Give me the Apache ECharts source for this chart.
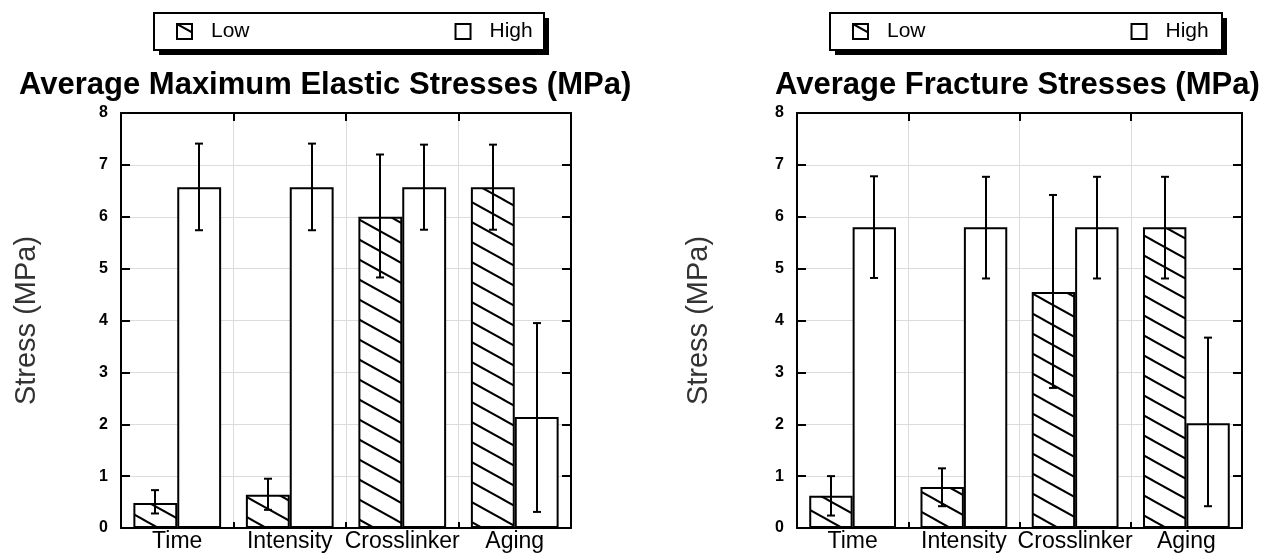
<!DOCTYPE html>
<html>
<head>
<meta charset="utf-8">
<script src="https://cdn.jsdelivr.net/npm/echarts@6/dist/echarts.min.js"></script>
<style>
html,body{margin:0;padding:0;background:#fff;}
#chart{width:1267px;height:554px;}
</style>
</head>
<body>
<div id="chart"></div>
<script>
// ---- data ----
const categories = ['Time', 'Intensity', 'Crosslinker', 'Aging'];
const seriesNames = ['Low', 'High'];

// Average Maximum Elastic Stresses (MPa)
const elasticLow = [0.48, 0.64, 6.0, 6.57];
const elasticHigh = [6.57, 6.57, 6.57, 2.14];
const elasticLowErrMin = [0.28, 0.35, 4.83, 5.75];
const elasticLowErrMax = [0.73, 0.95, 7.2, 7.39];
const elasticHighErrMin = [5.74, 5.74, 5.75, 0.31];
const elasticHighErrMax = [7.41, 7.41, 7.39, 3.95];

// Average Fracture Stresses (MPa)
const fractureLow = [0.62, 0.79, 4.55, 5.8];
const fractureHigh = [5.8, 5.8, 5.8, 2.02];
const fractureLowErrMin = [0.24, 0.42, 2.7, 4.81];
const fractureLowErrMax = [1.0, 1.15, 6.42, 6.77];
const fractureHighErrMin = [4.82, 4.81, 4.81, 0.42];
const fractureHighErrMax = [6.78, 6.77, 6.77, 3.67];

const yMin = 0, yMax = 8, yStep = 1;
const titles = ['Average Maximum Elastic Stresses (MPa)', 'Average Fracture Stresses (MPa)'];
const yAxisName = 'Stress (MPa)';

// ---- hatch pattern ----
function makeHatch() {
  const c = document.createElement('canvas');
  const w = 36, h = 20;
  c.width = w; c.height = h;
  const ctx = c.getContext('2d');
  ctx.fillStyle = '#fff';
  ctx.fillRect(0, 0, w, h);
  ctx.strokeStyle = '#000';
  ctx.lineWidth = 2;
  [-1, 0, 1].forEach(k => {
    ctx.beginPath();
    ctx.moveTo(-w, -h + k * h);
    ctx.lineTo(2 * w, 2 * h + k * h);
    ctx.stroke();
  });
  return c;
}
const hatch = { image: makeHatch(), repeat: 'repeat' };

const FONT = 'Liberation Sans';
const BAR_FRAC = 0.39;

function errSeries(name, xIdx, yIdx, mins, maxs, sign) {
  return {
    type: 'custom',
    name: name,
    xAxisIndex: xIdx,
    yAxisIndex: yIdx,
    z: 5,
    silent: true,
    data: categories.map((c, i) => [i, mins[i], maxs[i]]),
    renderItem: function (params, api) {
      const i = api.value(0);
      const band = api.size([1, 0])[0];
      const off = sign * band * BAR_FRAC / 2;
      const p1 = api.coord([i, api.value(1)]);
      const p2 = api.coord([i, api.value(2)]);
      const x = Math.round(p1[0] + off);
      const cap = 4;
      const st = { stroke: '#000', lineWidth: 2 };
      return {
        type: 'group',
        children: [
          { type: 'line', shape: { x1: x, y1: p1[1], x2: x, y2: p2[1] }, style: st },
          { type: 'line', shape: { x1: x - cap, y1: p1[1], x2: x + cap, y2: p1[1] }, style: st },
          { type: 'line', shape: { x1: x - cap, y1: p2[1], x2: x + cap, y2: p2[1] }, style: st }
        ]
      };
    }
  };
}

function barSeries(name, xIdx, yIdx, data, color) {
  return {
    type: 'bar',
    name: name,
    xAxisIndex: xIdx,
    yAxisIndex: yIdx,
    data: data,
    barWidth: (BAR_FRAC * 100) + '%',
    barGap: '0%',
    itemStyle: { color: color, borderColor: '#000', borderWidth: 2 },
    z: 3
  };
}

function axisLine() { return { show: true, onZero: false, lineStyle: { color: '#000', width: 2 } }; }

function xAxes(gi) {
  return [
    {
      type: 'category', gridIndex: gi, data: categories, position: 'bottom',
      boundaryGap: true,
      axisLine: axisLine(),
      axisTick: { show: true, inside: true, length: 6, lineStyle: { color: '#000', width: 2 } },
      axisLabel: { color: '#000', fontFamily: FONT, fontSize: 23, margin: 2, interval: 0 },
      splitLine: { show: true, lineStyle: { color: '#dcdcdc', width: 1 } }
    },
    {
      type: 'category', gridIndex: gi, data: categories, position: 'top',
      boundaryGap: true,
      axisLine: axisLine(),
      axisTick: { show: true, inside: true, length: 8, lineStyle: { color: '#000', width: 2 } },
      axisLabel: { show: false },
      splitLine: { show: false }
    }
  ];
}

function yAxes(gi, nameGap) {
  return [
    {
      type: 'value', gridIndex: gi, min: yMin, max: yMax, interval: yStep, position: 'left',
      name: yAxisName, nameLocation: 'middle', nameGap: nameGap, nameRotate: 90,
      nameTextStyle: { color: '#333', fontFamily: FONT, fontSize: 29 },
      axisLine: axisLine(),
      axisTick: { show: true, inside: true, length: 9, lineStyle: { color: '#000', width: 2 } },
      axisLabel: { color: '#000', fontFamily: FONT, fontSize: 16, fontWeight: 'bold', margin: 13 },
      splitLine: { show: true, lineStyle: { color: '#dcdcdc', width: 1 } }
    },
    {
      type: 'value', gridIndex: gi, min: yMin, max: yMax, interval: yStep, position: 'right',
      axisLine: axisLine(),
      axisTick: { show: true, inside: true, length: 9, lineStyle: { color: '#000', width: 2 } },
      axisLabel: { show: false },
      splitLine: { show: false }
    }
  ];
}

function legend(left) {
  return {
    left: left, top: 14,
    orient: 'horizontal',
    data: seriesNames,
    icon: 'rect',
    itemWidth: 15, itemHeight: 15,
    itemGap: 205,
    padding: [7, 6, 7, 22],
    selectedMode: false,
    textStyle: { color: '#000', fontFamily: FONT, fontSize: 21, padding: [4, 0, 0, 14] }
  };
}

function legendBox(x, w) {
  return [
    { type: 'rect', z: 1, shape: { x: x + 5, y: 18, width: w, height: 37 }, style: { fill: '#000' } },
    { type: 'rect', z: 2, shape: { x: x, y: 13, width: w, height: 37 }, style: { fill: '#fff', stroke: '#000', lineWidth: 2 } }
  ];
}

const option = {
  animation: false,
  backgroundColor: '#fff',
  graphic: legendBox(154, 390).concat(legendBox(830, 392)),
  title: [
    { text: titles[0], left: 19, top: 70, padding: 0,
      textStyle: { color: '#000', fontFamily: FONT, fontWeight: 'bold', fontSize: 31 } },
    { text: titles[1], left: 775, top: 70, padding: 0,
      textStyle: { color: '#000', fontFamily: FONT, fontWeight: 'bold', fontSize: 31 } }
  ],
  legend: [legend(154), legend(830)],
  grid: [
    { left: 121, top: 113, width: 450, height: 415 },
    { left: 797, top: 113, width: 445, height: 415 }
  ],
  xAxis: xAxes(0).concat(xAxes(1)),
  yAxis: yAxes(0, 80).concat(yAxes(1, 84)),
  series: [
    barSeries('Low', 0, 0, elasticLow, hatch),
    barSeries('High', 0, 0, elasticHigh, '#fff'),
    errSeries('LowErr', 0, 0, elasticLowErrMin, elasticLowErrMax, -1),
    errSeries('HighErr', 0, 0, elasticHighErrMin, elasticHighErrMax, 1),
    barSeries('Low', 2, 2, fractureLow, hatch),
    barSeries('High', 2, 2, fractureHigh, '#fff'),
    errSeries('LowErr', 2, 2, fractureLowErrMin, fractureLowErrMax, -1),
    errSeries('HighErr', 2, 2, fractureHighErrMin, fractureHighErrMax, 1)
  ]
};

const chart = echarts.init(document.getElementById('chart'), null, { renderer: 'canvas' });
chart.setOption(option);
</script>
</body>
</html>
